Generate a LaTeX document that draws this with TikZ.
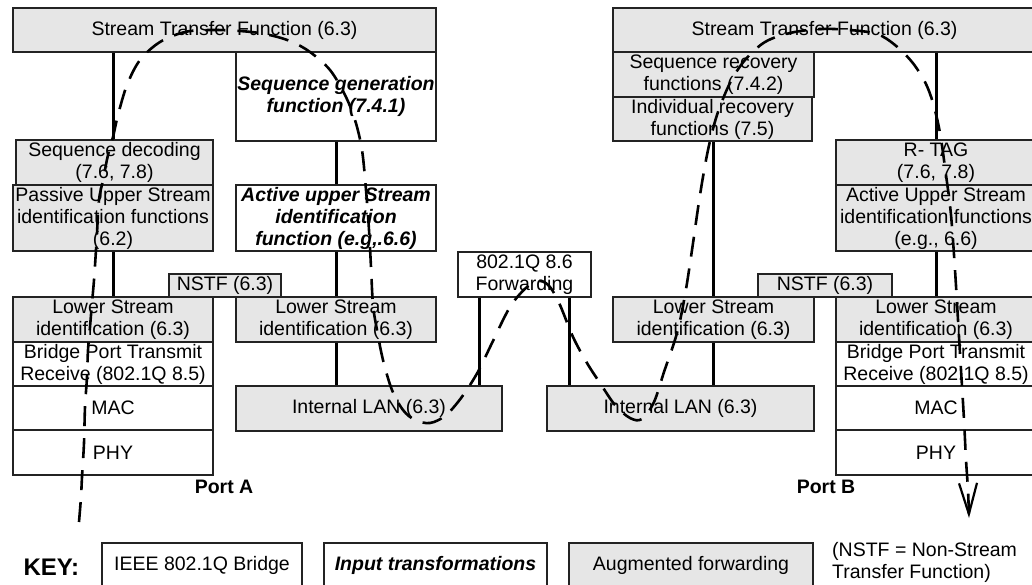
\documentclass[tikz,border=0pt]{standalone}
\usepackage{fontspec}
\setmainfont{Liberation Sans}
\usetikzlibrary{arrows.meta}

\definecolor{augfill}{RGB}{230,230,230}
\definecolor{edge}{RGB}{35,35,35}

\newcommand\boxfont{\fontsize{19.5}{22}\selectfont}
\newcommand\keyfont{\fontsize{24}{26}\selectfont\bfseries}

\tikzset{
  blk/.style={draw=edge, line width=1.3pt, inner sep=1pt, align=center,
              font=\boxfont, text=black},
  bridgebox/.style={blk, fill=white},
  augbox/.style={blk, fill=augfill},
  inbox/.style={blk, fill=white, font=\boxfont\bfseries\itshape},
  conn/.style={draw=black, line width=3pt},
  flow/.style={draw=black, line width=2.6pt, dash pattern=on 20pt off 12pt,
               line cap=butt},
  portlabel/.style={font=\boxfont\bfseries},
}

\begin{document}
\begin{tikzpicture}[x=1pt, y=-1pt]
\useasboundingbox (0,0) rectangle (1032,584);
\clip (0,0) rectangle (1032,584);

% ---------- left bridge half ----------
\node[augbox, minimum width=423pt, minimum height=44pt] (stfL) at (224.5,30)
  {Stream Transfer Function (6.3)};
\node[inbox, minimum width=200pt, minimum height=89pt] (seqgen) at (336,96.5)
  {Sequence generation\\function (7.4.1)};
\node[augbox, minimum width=197pt, minimum height=45pt] (seqdec) at (114.5,162.5)
  {Sequence decoding\\(7.6, 7.8)};
\node[augbox, minimum width=200pt, minimum height=66pt] (passive) at (113,218)
  {Passive Upper Stream\\identification functions\\(6.2)};
\node[inbox, minimum width=200pt, minimum height=66pt] (activeL) at (336,218)
  {Active upper Stream\\identification\\function (e.g,.6.6)};
\node[augbox, minimum width=112pt, minimum height=23pt] (nstfL) at (225,285.5)
  {NSTF (6.3)};
\node[augbox, minimum width=200pt, minimum height=45pt] (lsidA) at (113,319.5)
  {Lower Stream\\identification (6.3)};
\node[bridgebox, minimum width=200pt, minimum height=44pt] (bridgeA) at (113,364)
  {Bridge Port Transmit\\Receive (802.1Q 8.5)};
\node[bridgebox, minimum width=200pt, minimum height=44pt] (macA) at (113,408)
  {MAC};
\node[bridgebox, minimum width=200pt, minimum height=45pt] (phyA) at (113,452.5)
  {PHY};
\node[augbox, minimum width=200pt, minimum height=45pt] (lsidL) at (336,319.5)
  {Lower Stream\\identification (6.3)};
\node[augbox, minimum width=266pt, minimum height=45pt] (lanL) at (369,408.5)
  {Internal LAN (6.3)};

% ---------- relay ----------
\node[bridgebox, minimum width=133pt, minimum height=45pt] (fwd) at (524.5,274.5)
  {802.1Q 8.6\\Forwarding};

% ---------- right bridge half ----------
\node[augbox, minimum width=267pt, minimum height=45pt] (lanR) at (680.5,408.5)
  {Internal LAN (6.3)};
\node[augbox, minimum width=201pt, minimum height=45pt] (lsidR) at (713.5,319.5)
  {Lower Stream\\identification (6.3)};
\node[augbox, minimum width=423pt, minimum height=44pt] (stfR) at (824.5,30)
  {Stream Transfer Function (6.3)};
\node[augbox, minimum width=201pt, minimum height=45pt] (seqrec) at (713.5,74.5)
  {Sequence recovery\\functions (7.4.2)};
\node[augbox, minimum width=199pt, minimum height=44pt] (indiv) at (712.5,119)
  {Individual recovery\\functions (7.5)};
\node[augbox, minimum width=200pt, minimum height=45pt] (rtag) at (936,162.5)
  {R- TAG\\(7.6, 7.8)};
\node[augbox, minimum width=200pt, minimum height=66pt] (activeR) at (936,218)
  {Active Upper Stream\\identification functions\\(e.g., 6.6)};
\node[augbox, minimum width=134pt, minimum height=23pt] (nstfR) at (825,285.5)
  {NSTF (6.3)};
\node[augbox, minimum width=200pt, minimum height=45pt] (lsidB) at (936,319.5)
  {Lower Stream\\identification (6.3)};
\node[bridgebox, minimum width=200pt, minimum height=44pt] (bridgeB) at (936,364)
  {Bridge Port Transmit\\Receive (802.1Q 8.5)};
\node[bridgebox, minimum width=200pt, minimum height=44pt] (macB) at (936,408)
  {MAC};
\node[bridgebox, minimum width=200pt, minimum height=45pt] (phyB) at (936,452.5)
  {PHY};

% ---------- port labels ----------
\node[portlabel] (portA) at (224,487) {Port A};
\node[portlabel] (portB) at (826,487) {Port B};

% ---------- vertical connections ----------
\draw[conn] (passive.north |- stfL.south) -- (passive.north |- seqdec.north);
\draw[conn] (passive.south) -- (lsidA.north);
\draw[conn] (seqgen.south) -- (activeL.north);
\draw[conn] (activeL.south) -- (lsidL.north);
\draw[conn] (lsidL.south) -- (lsidL.south |- lanL.north);
\draw[conn] ([xshift=22pt]fwd.south west) -- ([xshift=22pt]fwd.south west |- lanL.north);
\draw[conn] ([xshift=-22pt]fwd.south east) -- ([xshift=-22pt]fwd.south east |- lanR.north);
\draw[conn] (lsidR.north |- indiv.south) -- (lsidR.north);
\draw[conn] (lsidR.south) -- (lsidR.south |- lanR.north);
\draw[conn] (rtag.north |- stfR.south) -- (rtag.north);
\draw[conn] (activeR.south) -- (lsidB.north);

% ---------- path of a frame through the bridge ----------
\draw[flow, -{Straight Barb[length=31pt, width=18pt, line width=2.2pt]}]
  plot[smooth, tension=0.55] coordinates {
    (79,522) (81,497) (82,477) (84,443) (85,407) (87,377) (88,350) (90,327)
    (92,303) (94,280) (96,250) (97,233) (99,200) (103,180) (108,155) (113,137)
    (118,115) (127,85) (140,60) (160,42) (185,32) (210,30) (240,31) (265,34)
    (290,41) (310,52) (330,70) (345,95) (355,120) (362,150) (366,190) (369,230)
    (371,267) (373,305) (377,330) (383,360) (392,390) (403,410) (415,420)
    (430,423) (445,416) (458,402) (470,385) (480,368) (492,343) (510,307)
    (527,287) (540,281) (550,287) (560,305) (573,337) (587,363) (600,383)
    (615,405) (630,418) (642,419) (654,402) (664,372) (677,333) (685,295)
    (692,250) (700,195) (708,150) (717,115) (730,83) (745,60) (765,42)
    (790,33) (820,29) (850,30) (877,34) (895,45) (912,62) (925,82) (933,103)
    (940,133) (946,175) (951,215) (955,270) (958,320) (961,370) (964,420)
    (966,460) (968,490) (969,518)};

% ---------- key ----------
\node[font=\keyfont, anchor=west] (keyttl) at (20,567) {KEY:};
\node[bridgebox, minimum width=200pt, minimum height=44pt] (key1) at (202,565)
  {IEEE 802.1Q Bridge};
\node[inbox, minimum width=223pt, minimum height=44pt] (key2) at (435.5,565)
  {Input transformations};
\node[augbox, minimum width=244pt, minimum height=44pt] (key3) at (691,565)
  {Augmented forwarding};
\node[font=\boxfont, align=left, anchor=west, inner sep=0pt] (keynote) at (832,562.5)
  {(NSTF = Non-Stream\\Transfer Function)};
\end{tikzpicture}
\end{document}
